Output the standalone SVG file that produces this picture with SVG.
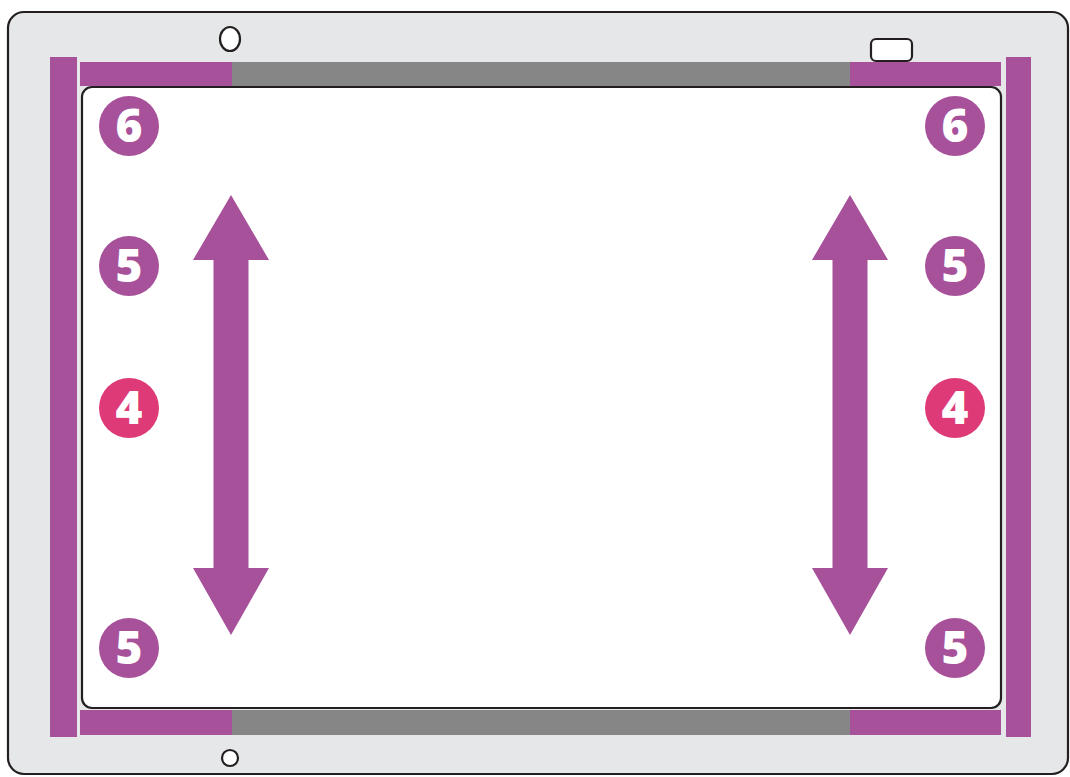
<svg xmlns="http://www.w3.org/2000/svg" width="1070" height="777" viewBox="0 0 1070 777">
<style>
.outline{stroke:#231f20;stroke-width:2.2}
.purple{fill:#a7519a}
.gray{fill:#868686}
.badge{fill:#a7519a}
.badge.hot{fill:#de3a78}
.num{font-family:"Open Sans","DejaVu Sans",sans-serif;font-weight:800;font-size:46px;fill:#fff;text-anchor:middle}
</style>
<defs>
<path id="dblarrow" d="M0,195 L38,260 L17.5,260 L17.5,568 L38,568 L0,635 L-38,568 L-17.5,568 L-17.5,260 L-38,260 Z"/>
</defs>
<rect width="1070" height="777" fill="#fff"/>
<g id="device">
<rect x="8" y="12" width="1060" height="762" rx="16" fill="#e6e7e8" class="outline"/>
<ellipse cx="230" cy="39" rx="10" ry="12" fill="#fff" class="outline"/>
<rect x="871" y="39" width="41" height="22" rx="5" fill="#fff" class="outline"/>
<circle cx="230" cy="758" r="8" fill="#fff" class="outline"/>
</g>
<g id="bars">
<rect class="purple" x="50" y="57" width="27" height="680"/>
<rect class="purple" x="1006" y="57" width="25" height="680"/>
<rect class="purple" x="80" y="62" width="152" height="24"/>
<rect class="gray" x="232" y="62" width="618" height="24"/>
<rect class="purple" x="850" y="62" width="151" height="24"/>
<rect class="purple" x="80" y="710" width="152" height="25"/>
<rect class="gray" x="232" y="710" width="618" height="25"/>
<rect class="purple" x="850" y="710" width="151" height="25"/>
</g>
<g id="screen">
<rect x="82" y="87" width="919" height="621" rx="10" fill="#fff" class="outline"/>
</g>
<g id="connectors">
<use href="#dblarrow" x="231" class="purple"/>
<use href="#dblarrow" x="850" class="purple"/>
</g>
<g id="badge-l6"><circle class="badge" cx="129" cy="126" r="30"/><text class="num" x="129" y="142">6</text></g>
<g id="badge-l5a"><circle class="badge" cx="129" cy="266" r="30"/><text class="num" x="129" y="282">5</text></g>
<g id="badge-l4"><circle class="badge hot" cx="129" cy="408" r="30"/><text class="num" x="129" y="424">4</text></g>
<g id="badge-l5b"><circle class="badge" cx="129" cy="648" r="30"/><text class="num" x="129" y="664">5</text></g>
<g id="badge-r6"><circle class="badge" cx="955" cy="126" r="30"/><text class="num" x="955" y="142">6</text></g>
<g id="badge-r5a"><circle class="badge" cx="955" cy="266" r="30"/><text class="num" x="955" y="282">5</text></g>
<g id="badge-r4"><circle class="badge hot" cx="955" cy="408" r="30"/><text class="num" x="955" y="424">4</text></g>
<g id="badge-r5b"><circle class="badge" cx="955" cy="648" r="30"/><text class="num" x="955" y="664">5</text></g>
</svg>
